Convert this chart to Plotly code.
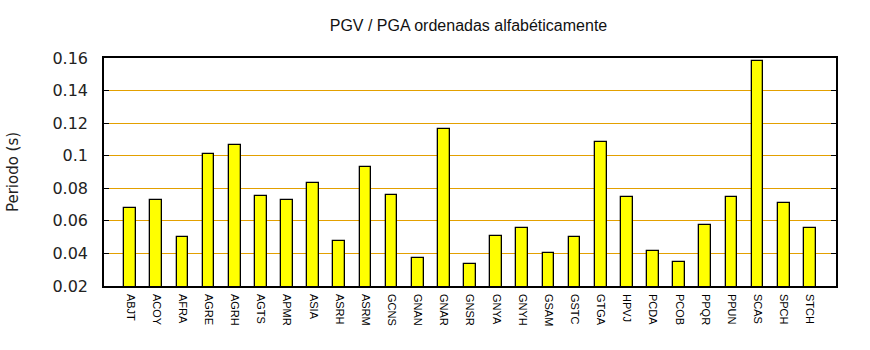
import plotly.graph_objects as go

# Station codes, alphabetical
stations = ["ABJT", "ACOY", "AFRA", "AGRE", "AGRH", "AGTS", "APMR", "ASIA", "ASRH",
            "ASRM", "GCNS", "GNAN", "GNAR", "GNSR", "GNYA", "GNYH", "GSAM", "GSTC",
            "GTGA", "HPVJ", "PCDA", "PCOB", "PPQR", "PPUN", "SCAS", "SPCH", "STCH"]

# PGV / PGA period (s)
periods = [0.0677, 0.0726, 0.0499, 0.1009, 0.1064, 0.0751, 0.0726, 0.0831, 0.0474,
           0.0929, 0.0757, 0.0370, 0.1162, 0.0333, 0.0505, 0.0554, 0.0401, 0.0499,
           0.1082, 0.0745, 0.0413, 0.0346, 0.0573, 0.0745, 0.1580, 0.0708, 0.0554]

y_ticks = [0.02, 0.04, 0.06, 0.08, 0.10, 0.12, 0.14, 0.16]
y_tick_text = ["0.02", "0.04", "0.06", "0.08", "0.1", "0.12", "0.14", "0.16"]

positions = list(range(len(stations)))

fig = go.Figure()
fig.add_trace(go.Bar(
    x=positions,
    y=periods,
    width=0.45,
    marker=dict(color="#FFFF00", line=dict(color="black", width=1.3)),
    showlegend=False,
))

fig.update_layout(
    width=870,
    height=350,
    margin=dict(l=101, r=34, t=58, b=64),
    paper_bgcolor="white",
    plot_bgcolor="white",
    title=dict(
        text="PGV / PGA ordenadas alfabéticamente",
        x=0.5385, xanchor="center",
        y=1 - 25 / 350, yanchor="middle",
        font=dict(family="Liberation Sans, Arial, sans-serif", size=16, color="#111111"),
    ),
    bargap=0,
)

fig.update_xaxes(
    range=[-1, len(stations)],
    tickmode="array",
    tickvals=positions,
    ticktext=stations,
    tickangle=90,
    tickfont=dict(family="Liberation Sans, Arial, sans-serif", size=11, color="black"),
    ticks="",
    ticklen=0,
    ticklabelstandoff=4,
    showgrid=False,
    showline=True,
    linecolor="black",
    linewidth=1.5,
    mirror=True,
    zeroline=False,
)

fig.update_yaxes(
    range=[0.02, 0.16],
    tickmode="array",
    tickvals=y_ticks,
    ticktext=y_tick_text,
    tickfont=dict(family="DejaVu Sans, sans-serif", size=16, color="#222222"),
    ticks="inside",
    ticklen=5,
    tickcolor="black",
    tickwidth=1,
    ticklabelstandoff=11,
    showgrid=True,
    gridcolor="#E3A000",
    gridwidth=1,
    showline=True,
    linecolor="black",
    linewidth=1.5,
    mirror="ticks",
    zeroline=False,
    title=dict(
        text="Periodo (s)",
        font=dict(family="DejaVu Sans, sans-serif", size=15, color="#222222"),
        standoff=30,
    ),
)

fig.write_html("out.html")
